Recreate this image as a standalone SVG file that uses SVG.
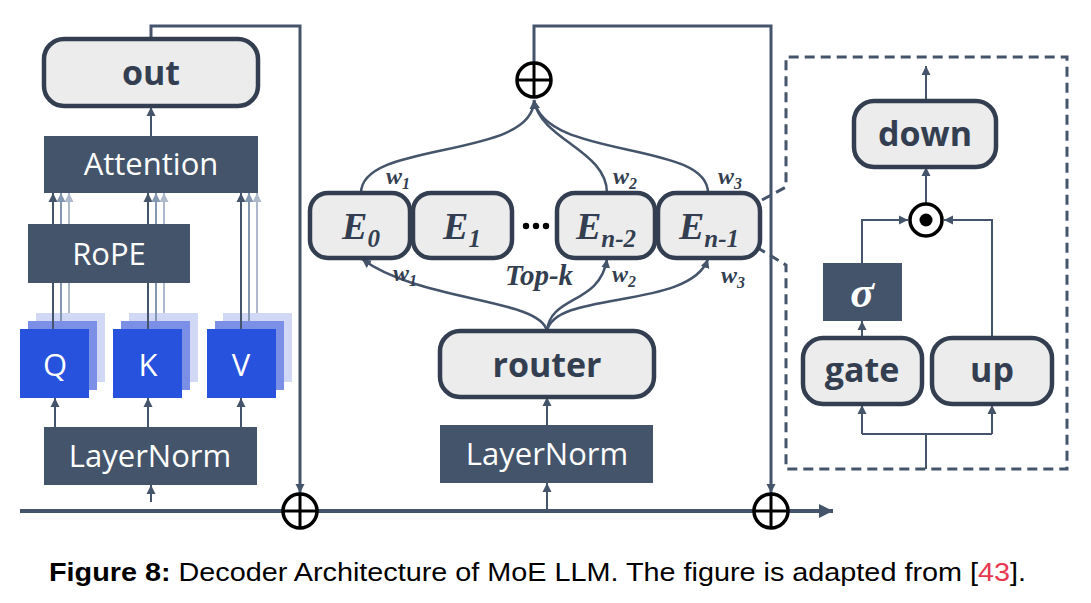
<svg xmlns="http://www.w3.org/2000/svg" width="1091" height="603" viewBox="0 0 1091 603">
  <defs>
    <marker id="ah" viewBox="0 0 10 10" refX="10" refY="5" markerWidth="9" markerHeight="10" markerUnits="userSpaceOnUse" orient="auto">
      <path d="M0,0 L10,5 L0,10 z" fill="#44546a"/>
    </marker>
    <marker id="ahMid" viewBox="0 0 10 10" refX="10" refY="5" markerWidth="9" markerHeight="10" markerUnits="userSpaceOnUse" orient="auto">
      <path d="M0,0 L10,5 L0,10 z" fill="#8497b0"/>
    </marker>
    <marker id="ahLight" viewBox="0 0 10 10" refX="10" refY="5" markerWidth="9" markerHeight="10" markerUnits="userSpaceOnUse" orient="auto">
      <path d="M0,0 L10,5 L0,10 z" fill="#adb9ca"/>
    </marker>
    <marker id="ahBig" viewBox="0 0 10 10" refX="10" refY="5" markerWidth="15" markerHeight="14" markerUnits="userSpaceOnUse" orient="auto">
      <path d="M0,0 L10,5 L0,10 z" fill="#44546a"/>
    </marker>
  </defs>
  <style>
    .rbox { fill: #ececec; stroke: #333f50; stroke-width: 4.5; }
    .dbox { fill: #44546a; }
    .lbl { font-family: "Open Sans", "Noto Sans", sans-serif; font-weight: bold; fill: #333f50; text-anchor: middle; }
    .wlbl { font-family: "Open Sans", "Noto Sans", sans-serif; fill: #ffffff; text-anchor: middle; }
    .math { font-family: "Liberation Serif", "Times New Roman", serif; font-style: italic; font-weight: bold; fill: #333f50; text-anchor: middle; }
    .wire { fill: none; stroke: #44546a; stroke-width: 2; }
    .res { fill: none; stroke: #44546a; stroke-width: 3; }
    .curve { fill: none; stroke: #44546a; stroke-width: 2.5; }
    .plus { fill: #ffffff; stroke: #000000; stroke-width: 3.5; }
    .q0 { fill: #2652dd; }
    .q1 { fill: #7b8fe6; }
    .q2 { fill: #d0d8f6; }
  </style>
  <rect width="1091" height="603" fill="#ffffff"/>

  <!-- connectors -->
  <g id="connectors">
    <!-- residual stream -->
    <line x1="20" y1="511" x2="833" y2="511" stroke="#44546a" stroke-width="4" marker-end="url(#ahBig)"/>
    <path class="res" d="M151,38 L151,26 L300,26 L300,493" marker-end="url(#ah)"/>
    <path class="res" d="M534,62 L534,26 L771,26 L771,493" marker-end="url(#ah)"/>
    <!-- attention branch -->
    <line class="wire" x1="151" y1="502" x2="151" y2="485" marker-end="url(#ah)"/>
    <line class="wire" x1="55" y1="427" x2="55" y2="398" marker-end="url(#ah)"/>
    <line class="wire" x1="148" y1="427" x2="148" y2="398" marker-end="url(#ah)"/>
    <line class="wire" x1="241" y1="427" x2="241" y2="398" marker-end="url(#ah)"/>
    <line class="wire" x1="151" y1="136" x2="151" y2="107" marker-end="url(#ah)"/>
    <!-- MoE branch -->
    <line class="wire" x1="547" y1="509" x2="547" y2="483" marker-end="url(#ah)"/>
    <line class="wire" x1="547" y1="425" x2="547" y2="397" marker-end="url(#ah)"/>
    <path class="curve" d="M547,331 C540,298 420,302 362,259" marker-end="url(#ah)"/>
    <path class="curve" d="M547,331 C550,295 600,305 607,259" marker-end="url(#ah)"/>
    <path class="curve" d="M547,331 C555,290 690,310 708,259" marker-end="url(#ah)"/>
    <path class="curve" d="M361,193 C361,140 534,160 534,100" marker-end="url(#ah)"/>
    <path class="curve" d="M607,193 C607,150 540,140 534,100" marker-end="url(#ah)"/>
    <path class="curve" d="M708,193 C708,140 545,160 534,100" marker-end="url(#ah)"/>
    <!-- expert detail -->
    <path d="M762,200 L786,187 L786,57 L1067,57 L1067,469 L786,469 L786,265 L758,248" fill="none" stroke="#44546a" stroke-width="3" stroke-dasharray="10,6"/>
    <line class="wire" x1="926" y1="469" x2="926" y2="434"/>
    <path class="wire" d="M862,434 L992,434"/>
    <line class="wire" x1="862" y1="434" x2="862" y2="405" marker-end="url(#ah)"/>
    <line class="wire" x1="992" y1="434" x2="992" y2="405" marker-end="url(#ah)"/>
    <line class="wire" x1="862" y1="338" x2="862" y2="321" marker-end="url(#ah)"/>
    <path class="wire" d="M862,263 L862,220 L908,220" marker-end="url(#ah)"/>
    <path class="wire" d="M992,338 L992,220 L944,220" marker-end="url(#ah)"/>
    <line class="wire" x1="926" y1="203" x2="926" y2="167" marker-end="url(#ah)"/>
    <line class="wire" x1="926" y1="101" x2="926" y2="66" marker-end="url(#ah)"/>
  </g>

  <!-- adders -->
  <g id="add-attn">
    <circle class="plus" cx="300" cy="511" r="17"/>
    <path d="M283,511 L317,511 M300,494 L300,528" stroke="#000" stroke-width="3"/>
  </g>
  <g id="add-moe">
    <circle class="plus" cx="771" cy="511" r="17"/>
    <path d="M754,511 L788,511 M771,494 L771,528" stroke="#000" stroke-width="3"/>
  </g>
  <g id="add-experts">
    <circle class="plus" cx="534" cy="80" r="17"/>
    <path d="M517,80 L551,80 M534,63 L534,97" stroke="#000" stroke-width="3"/>
  </g>

  <!-- attention block -->
  <g id="out">
    <rect class="rbox" x="44" y="39" width="214" height="67" rx="20"/>
    <text class="lbl" x="151" y="85" font-size="34">out</text>
  </g>
  <g id="attention">
    <rect class="dbox" x="44" y="136" width="214" height="57"/>
    <text class="wlbl" x="151" y="175" font-size="31">Attention</text>
  </g>
  <g id="qkv">
    <rect class="q2" x="36" y="313" width="69" height="69"/>
    <rect class="q1" x="28" y="321" width="69" height="69"/>
    <rect class="q0" x="20" y="329" width="69" height="69"/>
    <rect class="q2" x="129" y="313" width="69" height="69"/>
    <rect class="q1" x="121" y="321" width="69" height="69"/>
    <rect class="q0" x="113" y="329" width="69" height="69"/>
    <rect class="q2" x="223" y="313" width="69" height="69"/>
    <rect class="q1" x="215" y="321" width="69" height="69"/>
    <rect class="q0" x="207" y="329" width="69" height="69"/>
    <text class="wlbl" x="55" y="376" font-size="31">Q</text>
    <text class="wlbl" x="148" y="376" font-size="31">K</text>
    <text class="wlbl" x="241" y="376" font-size="31">V</text>
    <!-- per-head streams into attention -->
    <line class="wire" x1="53" y1="329" x2="53" y2="193" marker-end="url(#ah)"/>
    <line x1="61" y1="321" x2="61" y2="193" stroke="#8497b0" stroke-width="2" marker-end="url(#ahMid)"/>
    <line x1="69" y1="313" x2="69" y2="193" stroke="#adb9ca" stroke-width="2" marker-end="url(#ahLight)"/>
    <line class="wire" x1="148" y1="329" x2="148" y2="193" marker-end="url(#ah)"/>
    <line x1="156" y1="321" x2="156" y2="193" stroke="#8497b0" stroke-width="2" marker-end="url(#ahMid)"/>
    <line x1="164" y1="313" x2="164" y2="193" stroke="#adb9ca" stroke-width="2" marker-end="url(#ahLight)"/>
    <line class="wire" x1="241" y1="329" x2="241" y2="193" marker-end="url(#ah)"/>
    <line x1="249" y1="321" x2="249" y2="193" stroke="#8497b0" stroke-width="2" marker-end="url(#ahMid)"/>
    <line x1="257" y1="313" x2="257" y2="193" stroke="#adb9ca" stroke-width="2" marker-end="url(#ahLight)"/>
  </g>
  <g id="rope">
    <rect class="dbox" x="28" y="224" width="162" height="59"/>
    <text class="wlbl" x="109" y="265" font-size="31">RoPE</text>
  </g>
  <g id="layernorm-attn">
    <rect class="dbox" x="44" y="427" width="213" height="58"/>
    <text class="wlbl" x="150" y="467" font-size="31">LayerNorm</text>
  </g>

  <!-- MoE block -->
  <g id="layernorm-moe">
    <rect class="dbox" x="440" y="425" width="213" height="58"/>
    <text class="wlbl" x="547" y="465" font-size="31">LayerNorm</text>
  </g>
  <g id="router">
    <rect class="rbox" x="440" y="331" width="214" height="66" rx="20"/>
    <text class="lbl" x="547" y="377" font-size="34">router</text>
  </g>
  <g id="expert-0">
    <rect class="rbox" x="310" y="193" width="100" height="65" rx="18"/>
    <text class="math" x="361" y="239" font-size="38">E<tspan font-size="25" dy="8">0</tspan></text>
  </g>
  <g id="expert-1">
    <rect class="rbox" x="413" y="193" width="99" height="65" rx="18"/>
    <text class="math" x="462" y="239" font-size="38">E<tspan font-size="25" dy="8">1</tspan></text>
  </g>
  <g id="ellipsis">
    <circle cx="526" cy="226" r="3.2" fill="#000"/>
    <circle cx="536" cy="226" r="3.2" fill="#000"/>
    <circle cx="546" cy="226" r="3.2" fill="#000"/>
  </g>
  <g id="expert-n-2">
    <rect class="rbox" x="557" y="193" width="98" height="65" rx="18"/>
    <text class="math" x="606" y="239" font-size="38">E<tspan font-size="25" dy="8">n-2</tspan></text>
  </g>
  <g id="expert-n-1">
    <rect class="rbox" x="658" y="193" width="102" height="65" rx="18"/>
    <text class="math" x="709" y="239" font-size="38">E<tspan font-size="25" dy="8">n-1</tspan></text>
  </g>
  <g id="weights">
    <text class="math" x="398" y="184" font-size="24">w<tspan font-size="16" dy="5">1</tspan></text>
    <text class="math" x="625" y="184" font-size="24">w<tspan font-size="16" dy="5">2</tspan></text>
    <text class="math" x="730" y="184" font-size="24">w<tspan font-size="16" dy="5">3</tspan></text>
    <text class="math" x="405" y="281" font-size="24">w<tspan font-size="16" dy="5">1</tspan></text>
    <text class="math" x="624" y="282" font-size="24">w<tspan font-size="16" dy="5">2</tspan></text>
    <text class="math" x="733" y="283" font-size="24">w<tspan font-size="16" dy="5">3</tspan></text>
    <text class="math" x="539" y="285" font-size="29">Top-k</text>
  </g>

  <!-- expert internals -->
  <g id="down">
    <rect class="rbox" x="854" y="101" width="142" height="66" rx="20"/>
    <text class="lbl" x="925" y="146" font-size="34">down</text>
  </g>
  <g id="hadamard">
    <circle cx="926" cy="220" r="16" fill="#fff" stroke="#000" stroke-width="3.5"/>
    <circle cx="926" cy="220" r="6.5" fill="#000"/>
  </g>
  <g id="sigma">
    <rect class="dbox" x="823" y="263" width="79" height="58"/>
    <text x="862" y="307" font-family="Liberation Serif, Times New Roman, serif" font-style="italic" font-weight="bold" font-size="44" fill="#fff" text-anchor="middle">σ</text>
  </g>
  <g id="gate">
    <rect class="rbox" x="803" y="338" width="119" height="66" rx="20"/>
    <text class="lbl" x="862" y="382" font-size="34">gate</text>
  </g>
  <g id="up">
    <rect class="rbox" x="932" y="338" width="120" height="66" rx="20"/>
    <text class="lbl" x="992" y="382" font-size="34">up</text>
  </g>

  <!-- caption -->
  <text x="49" y="581" font-family="Liberation Sans, Arial, sans-serif" font-size="25" fill="#000" textLength="977" lengthAdjust="spacingAndGlyphs"><tspan font-weight="bold">Figure 8:</tspan> Decoder Architecture of MoE LLM. The figure is adapted from [<tspan fill="#e8384f">43</tspan>].</text>
</svg>
